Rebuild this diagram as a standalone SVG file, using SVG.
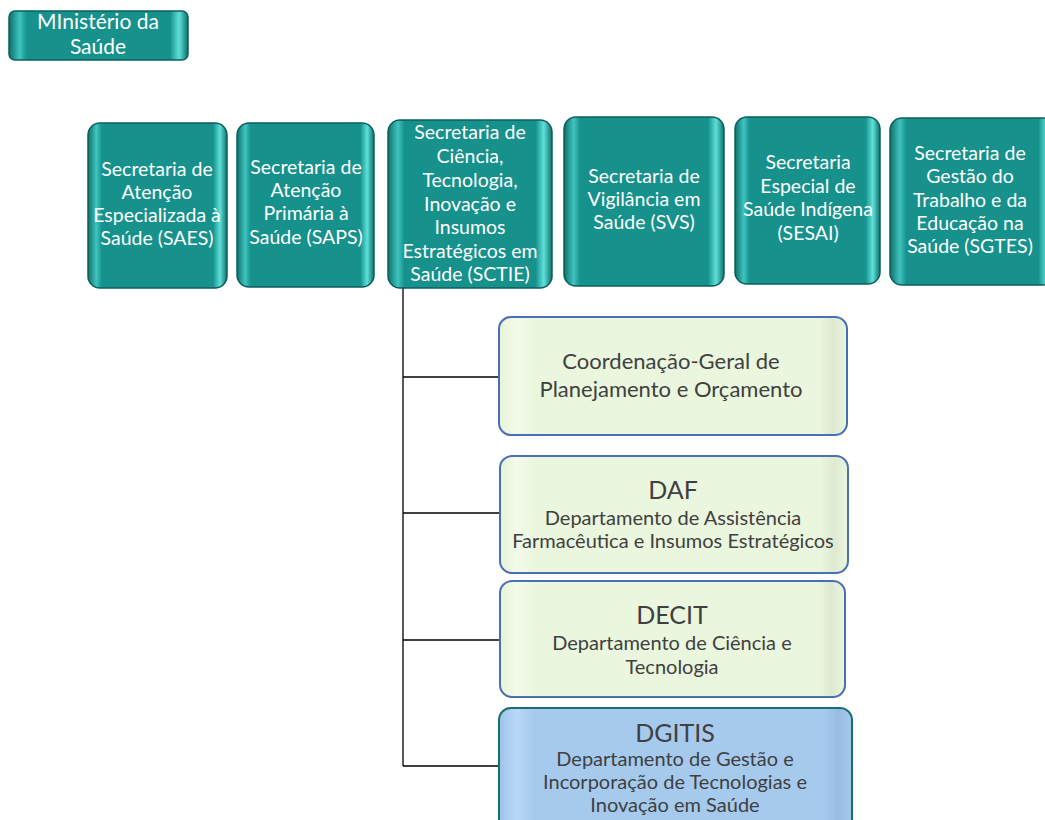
<svg xmlns="http://www.w3.org/2000/svg" width="1045" height="820" viewBox="0 0 1045 820">
<defs>
<linearGradient id="tealH" x1="0" y1="0" x2="1" y2="0">
<stop offset="0" stop-color="#0f6f6b"/>
<stop offset="0.06" stop-color="#3fc4bf"/>
<stop offset="0.1" stop-color="#16918c"/>
<stop offset="0.9" stop-color="#16918c"/>
<stop offset="0.95" stop-color="#5fe0da"/>
<stop offset="1" stop-color="#0f6f6b"/>
</linearGradient>
<linearGradient id="greenH" x1="0" y1="0" x2="1" y2="0">
<stop offset="0" stop-color="#e6f3d8"/>
<stop offset="0.05" stop-color="#f3faea"/>
<stop offset="0.1" stop-color="#eaf6dd"/>
<stop offset="0.92" stop-color="#eaf6dd"/>
<stop offset="0.96" stop-color="#dfe9d2"/>
<stop offset="1" stop-color="#eaf6dd"/>
</linearGradient>
<linearGradient id="blueH" x1="0" y1="0" x2="1" y2="0">
<stop offset="0" stop-color="#9cc3ea"/>
<stop offset="0.05" stop-color="#b8d8f6"/>
<stop offset="0.1" stop-color="#a5caee"/>
<stop offset="0.92" stop-color="#a5caee"/>
<stop offset="0.96" stop-color="#99bde2"/>
<stop offset="1" stop-color="#a5caee"/>
</linearGradient>
</defs>
<style>
.teal{fill:url(#tealH);stroke:#0b5f5c;stroke-width:1.5}
.green{fill:url(#greenH);stroke:#4a6fb5;stroke-width:2}
.blue{fill:url(#blueH);stroke:#1a6f6a;stroke-width:2}
.wt{font-family:Lato,"Open Sans",sans-serif;font-size:19.5px;fill:#ffffff;text-anchor:middle}
.wb{font-family:Lato,"Open Sans",sans-serif;font-size:21px;fill:#ffffff;text-anchor:middle}
.dt{font-family:Lato,"Open Sans",sans-serif;font-size:20px;fill:#404040;text-anchor:middle}
.db{font-family:Lato,"Open Sans",sans-serif;font-size:22px;fill:#404040;text-anchor:middle}
.ht{font-family:Lato,"Open Sans",sans-serif;font-size:25px;fill:#404040;text-anchor:middle}
.conn{fill:none;stroke:#000000;stroke-width:1.3}
</style>
<g id="connectors">
<path class="conn" d="M403,288 V766"/>
<path class="conn" d="M403,377 H499"/>
<path class="conn" d="M403,513 H500"/>
<path class="conn" d="M403,640 H500"/>
<path class="conn" d="M403,766 H499"/>
</g>
<g id="ministerio">
<rect class="teal" x="9" y="11" width="179" height="49" rx="6"/>
<text class="wb" x="98" y="29">MInistério da</text>
<text class="wb" x="98" y="54">Saúde</text>
</g>
<g id="saes">
<rect class="teal" x="88" y="123" width="139" height="165" rx="12"/>
<text class="wt" x="157" y="176">Secretaria de</text>
<text class="wt" x="157" y="199">Atenção</text>
<text class="wt" x="157" y="222">Especializada à</text>
<text class="wt" x="157" y="245">Saúde (SAES)</text>
</g>
<g id="saps">
<rect class="teal" x="237" y="123" width="137" height="164" rx="12"/>
<text class="wt" x="306" y="174">Secretaria de</text>
<text class="wt" x="306" y="197">Atenção</text>
<text class="wt" x="306" y="220">Primária à</text>
<text class="wt" x="306" y="244">Saúde (SAPS)</text>
</g>
<g id="sctie">
<rect class="teal" x="388" y="120" width="164" height="168" rx="12"/>
<text class="wt" x="470" y="139">Secretaria de</text>
<text class="wt" x="470" y="163">Ciência,</text>
<text class="wt" x="470" y="187">Tecnologia,</text>
<text class="wt" x="470" y="211">Inovação e</text>
<text class="wt" x="470" y="234">Insumos</text>
<text class="wt" x="470" y="258">Estratégicos em</text>
<text class="wt" x="470" y="281">Saúde (SCTIE)</text>
</g>
<g id="svs">
<rect class="teal" x="564" y="117" width="160" height="169" rx="12"/>
<text class="wt" x="644" y="183">Secretaria de</text>
<text class="wt" x="644" y="206">Vigilância em</text>
<text class="wt" x="644" y="229">Saúde (SVS)</text>
</g>
<g id="sesai">
<rect class="teal" x="735" y="117" width="145" height="167" rx="12"/>
<text class="wt" x="808" y="169">Secretaria</text>
<text class="wt" x="808" y="193">Especial de</text>
<text class="wt" x="808" y="216">Saúde Indígena</text>
<text class="wt" x="808" y="240">(SESAI)</text>
</g>
<g id="sgtes">
<rect class="teal" x="890" y="118" width="165" height="167" rx="12"/>
<text class="wt" x="970" y="160">Secretaria de</text>
<text class="wt" x="970" y="183">Gestão do</text>
<text class="wt" x="970" y="207">Trabalho e da</text>
<text class="wt" x="970" y="230">Educação na</text>
<text class="wt" x="970" y="253">Saúde (SGTES)</text>
</g>
<g id="cgpo">
<rect class="green" x="499" y="317" width="348" height="118" rx="12"/>
<text class="db" x="671" y="369">Coordenação-Geral de</text>
<text class="db" x="671" y="397">Planejamento e Orçamento</text>
</g>
<g id="daf">
<rect class="green" x="500" y="456" width="348" height="117" rx="12"/>
<text class="ht" x="673" y="499">DAF</text>
<text class="dt" x="673" y="525">Departamento de Assistência</text>
<text class="dt" x="673" y="548">Farmacêutica e Insumos Estratégicos</text>
</g>
<g id="decit">
<rect class="green" x="500" y="581" width="345" height="116" rx="12"/>
<text class="ht" x="672" y="624">DECIT</text>
<text class="dt" x="672" y="650">Departamento de Ciência e</text>
<text class="dt" x="672" y="674">Tecnologia</text>
</g>
<g id="dgitis">
<rect class="blue" x="499" y="708" width="353" height="125" rx="12"/>
<text class="ht" x="675" y="742">DGITIS</text>
<text class="dt" x="675" y="766">Departamento de Gestão e</text>
<text class="dt" x="675" y="789">Incorporação de Tecnologias e</text>
<text class="dt" x="675" y="812">Inovação em Saúde</text>
</g>
</svg>
